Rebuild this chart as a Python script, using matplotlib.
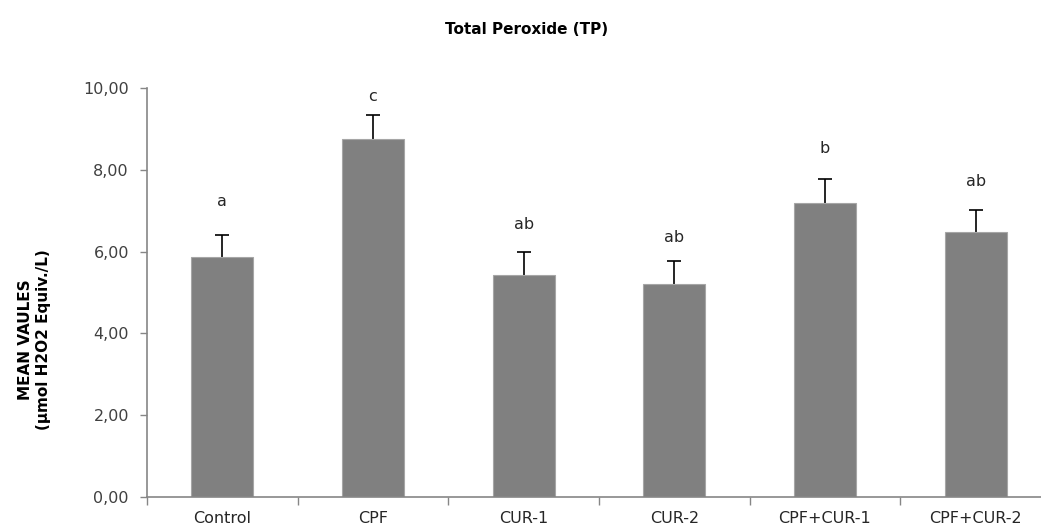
import matplotlib.pyplot as plt
import numpy as np

# values
groups = ["Control", "CPF", "CUR-1", "CUR-2", "CPF+CUR-1", "CPF+CUR-2"]
means = [5.87, 8.75, 5.43, 5.21, 7.20, 6.49]
errs = [0.53, 0.58, 0.56, 0.56, 0.57, 0.53]
letters = ["a", "c", "ab", "ab", "b", "ab"]
letter_y = [7.11, 9.69, 6.55, 6.23, 8.42, 7.60]

fig = plt.figure(figsize=(10.41, 5.32), dpi=100)
ax = fig.add_axes([0.1412, 0.0658, 0.8684, 0.7688])

ind = np.arange(len(groups))
ax.bar(ind, means, 0.41, color='#808080', edgecolor='#a6a6a6', linewidth=0.8, zorder=2)
# error bars sit behind the bars so only the upper whisker shows
ax.errorbar(ind, means, yerr=errs, fmt='none',
            ecolor='black', elinewidth=1.2, capsize=4.7, capthick=1.2, zorder=1)

for i, lab in enumerate(letters):
    ax.text(ind[i], letter_y[i], lab, ha='center', va='baseline', fontsize=11.5, color='#262626')

ax.set_xlim(-0.5, 5.5)
ax.set_ylim(0, 10)
yt = np.arange(0, 10.01, 2)
ax.set_yticks(yt)
ax.set_yticklabels([("%.2f" % v).replace('.', ',') for v in yt])
ax.set_xticks(ind)
ax.set_xticklabels(groups)
ax.set_xticks(np.arange(-0.5, 5.6, 1), minor=True)
ax.tick_params(axis='x', which='major', length=0, pad=10, labelsize=11.5, labelcolor='#262626')
ax.tick_params(axis='x', which='minor', length=6, width=1, color='#868686')
ax.tick_params(axis='y', length=5, width=1, color='#868686', pad=8, labelsize=11.5, labelcolor='#404040')

for s in ['top', 'right']:
    ax.spines[s].set_visible(False)
for s in ['left', 'bottom']:
    ax.spines[s].set_color('#868686')
    ax.spines[s].set_linewidth(1.2)

fig.text(0.506, 0.944, "Total Peroxide (TP)", ha='center', va='center', fontsize=11, fontweight='bold')
fig.text(0.0336, 1 - 340 / 532, "MEAN VAULES\n(\u00b5mol H2O2 Equiv./L)", ha='center', va='center',
         rotation=90, fontsize=11, fontweight='bold', linespacing=1.25)

plt.savefig('out.png', dpi=100)
